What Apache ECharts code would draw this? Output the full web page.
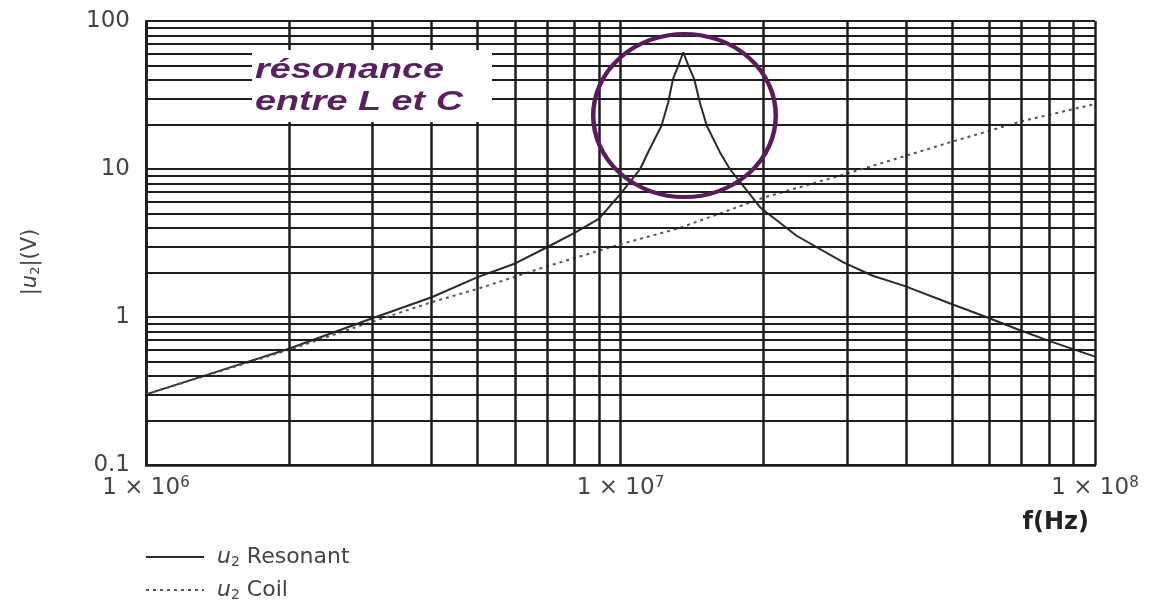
<!DOCTYPE html>
<html>
<head>
<meta charset="utf-8">
<title>|u2|(V) vs f(Hz)</title>
<script src="https://cdn.jsdelivr.net/npm/echarts@6/dist/echarts.min.js"></script>
<style>
  html, body { margin: 0; padding: 0; background: #fff; }
  #chart { width: 1156px; height: 603px; }
</style>
</head>
<body>
<div id="chart"></div>
<script>
// Resonant circuit output |u2| (V) versus frequency (Hz)
const freqResonant = [1e6, 1.5e6, 2e6, 3e6, 4e6, 5e6, 6e6, 7e6, 8e6, 9e6, 1e7, 1.1e7, 1.15e7,
  1.22e7, 1.26e7, 1.29e7, 1.324e7, 1.356e7, 1.39e7, 1.43e7, 1.47e7, 1.52e7, 1.62e7, 1.7e7,
  1.97e7, 2.35e7, 2.95e7, 3.4e7, 3.95e7, 5e7, 5.9e7, 6.84e7, 8e7, 1e8];
const u2Resonant = [0.30, 0.455, 0.61, 0.98, 1.36, 1.86, 2.3, 2.96, 3.7, 4.6, 6.8, 10, 13.5,
  19.6, 28, 40.5, 50, 61.5, 50, 40.5, 28, 19.6, 13, 10,
  5.5, 3.54, 2.34, 1.9, 1.63, 1.22, 1.0, 0.83, 0.69, 0.54];

// Coil alone
const freqCoil = [1e6, 2e6, 3e6, 4e6, 5e6, 7e6, 1e7, 1.334e7, 2e7, 3e7, 5e7, 7e7, 1e8];
const u2Coil = [0.30, 0.60, 0.93, 1.26, 1.55, 2.2, 3.1, 4.0, 6.4, 9.3, 15.3, 21, 27.5];

// Log-paper minor grid values
const minorFreqs = [2e6, 3e6, 4e6, 5e6, 6e6, 7e6, 8e6, 9e6, 2e7, 3e7, 4e7, 5e7, 6e7, 7e7, 8e7, 9e7];
const minorVolts = [0.2, 0.3, 0.4, 0.5, 0.6, 0.7, 0.8, 0.9, 2, 3, 4, 5, 6, 7, 8, 9, 20, 30, 40, 50, 60, 70, 80, 90];

const seriesNames = ['Resonant', 'Coil'];

const gridColor = '#1e1e1e';
const textColor = '#444';
const purple = '#5a1f5e';
const labelFont = '"DejaVu Sans", "Liberation Sans", sans-serif';

const pair = (xs, ys) => xs.map((x, i) => [x, ys[i]]);

const chart = echarts.init(document.getElementById('chart'));

const option = {
  animation: false,
  backgroundColor: '#fff',
  grid: { left: 146, right: 61, top: 21, bottom: 138, containLabel: false, outerBoundsMode: 'none' },
  xAxis: {
    type: 'log',
    logBase: 10,
    min: 1e6,
    max: 1e8,
    axisLine: { show: true, lineStyle: { color: gridColor, width: 2.5 } },
    axisTick: { show: false },
    splitLine: { show: true, lineStyle: { color: gridColor, width: 2.5 } },
    axisLabel: {
      margin: 11,
      showMinLabel: true,
      showMaxLabel: true,
      formatter: v => '{b|1 × 10}{sup|' + Math.round(Math.log10(v)) + '}',
      rich: {
        b: { fontFamily: labelFont, fontSize: 23, color: textColor },
        sup: { fontFamily: labelFont, fontSize: 15, color: textColor, verticalAlign: 'top', padding: [0, 0, 10, 0] }
      }
    },
    name: 'f(Hz)',
    nameLocation: 'end',
    nameGap: 0,
    nameTextStyle: {
      fontFamily: labelFont, fontSize: 24, fontWeight: 'bold', color: '#222',
      align: 'right',
      verticalAlign: 'top',
      padding: [46, 6, 0, 0]
    }
  },
  yAxis: {
    type: 'log',
    logBase: 10,
    min: 0.1,
    max: 100,
    axisLine: { show: true, lineStyle: { color: gridColor, width: 2 } },
    axisTick: { show: false },
    splitLine: { show: true, lineStyle: { color: gridColor, width: 2 } },
    axisLabel: {
      margin: 16,
      fontFamily: labelFont,
      fontSize: 23,
      color: textColor,
      formatter: v => (v < 1 ? v.toFixed(1) : String(Math.round(v)))
    },
    name: '|{u|u}{s|2}|(V)',
    nameLocation: 'middle',
    nameRotate: 90,
    nameGap: 104,
    nameTextStyle: {
      fontFamily: labelFont, fontSize: 21, color: textColor,
      padding: [0, 38, 0, 0],
      rich: {
        u: { fontFamily: labelFont, fontSize: 21, fontStyle: 'italic', color: textColor },
        s: { fontFamily: labelFont, fontSize: 13, color: textColor, verticalAlign: 'bottom', padding: [10, 0, 0, 0] }
      }
    }
  },
  legend: {
    orient: 'vertical',
    left: 145,
    top: 546,
    height: 56,
    padding: 0,
    itemWidth: 58,
    itemHeight: 14,
    itemGap: 10,
    data: seriesNames,
    selectedMode: false,
    itemStyle: { opacity: 0 },
    formatter: n => '{u|u}{s|2} ' + n,
    textStyle: {
      fontFamily: labelFont,
      fontSize: 22,
      color: textColor,
      rich: {
        u: { fontFamily: labelFont, fontSize: 22, fontStyle: 'italic', color: textColor, padding: [0, 0, 0, 8] },
        s: { fontFamily: labelFont, fontSize: 14, color: textColor, verticalAlign: 'bottom', padding: [10, 0, 0, 0] }
      }
    }
  },
  series: [
    {
      // log-paper minor grid
      name: 'grid',
      type: 'line',
      data: [],
      z: 1,
      silent: true,
      markLine: {
        silent: true,
        symbol: ['none', 'none'],
        label: { show: false },
        animation: false,
        lineStyle: { color: gridColor, width: 2, type: 'solid' },
        data: [
          ...minorFreqs.map(f => ({ xAxis: f, lineStyle: { width: 2.5 } })),
          ...minorVolts.map(v => ({ yAxis: v }))
        ]
      }
    },
    {
      name: seriesNames[0],
      type: 'line',
      z: 3,
      symbol: 'none',
      smooth: false,
      lineStyle: { color: '#2b2b2b', width: 2 },
      itemStyle: { color: '#2b2b2b' },
      data: pair(freqResonant, u2Resonant)
    },
    {
      name: seriesNames[1],
      type: 'line',
      z: 3,
      symbol: 'none',
      smooth: false,
      lineStyle: { color: '#555', width: 2, type: [3, 4] },
      itemStyle: { color: '#555' },
      data: pair(freqCoil, u2Coil)
    }
  ],
  graphic: [
    {
      type: 'rect',
      z: 100,
      shape: { x: 252, y: 50, width: 240, height: 72 },
      style: { fill: '#fff' }
    },
    {
      type: 'text',
      z: 101,
      x: 255,
      y: 70,
      scaleX: 1.35,
      style: {
        text: 'résonance',
        font: 'italic bold 28px "Liberation Sans", Arial, sans-serif',
        fill: purple,
        align: 'left',
        verticalAlign: 'middle'
      }
    },
    {
      type: 'text',
      z: 101,
      x: 255,
      y: 102,
      scaleX: 1.35,
      style: {
        text: 'entre L et C',
        font: 'italic bold 28px "Liberation Sans", Arial, sans-serif',
        fill: purple,
        align: 'left',
        verticalAlign: 'middle'
      }
    },
    {
      type: 'circle',
      z: 102,
      x: 684.5,
      y: 115.5,
      scaleX: 1.12,
      shape: { cx: 0, cy: 0, r: 81.5 },
      style: { fill: 'none', stroke: '#5c1a5c', lineWidth: 4 }
    }
  ]
};

chart.setOption(option);
</script>
</body>
</html>
